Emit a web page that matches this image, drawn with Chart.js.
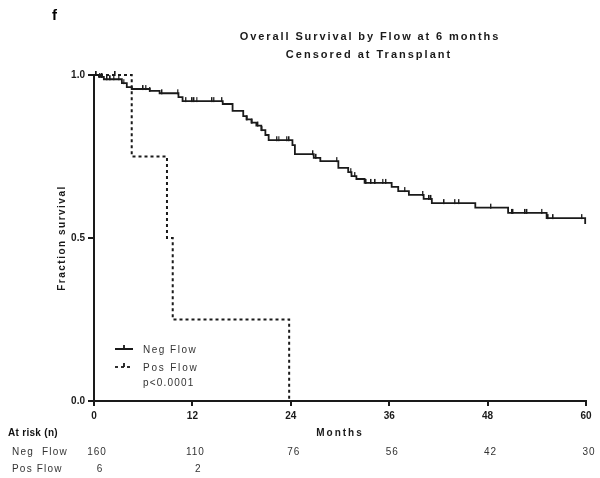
<!DOCTYPE html>
<html>
<head>
<meta charset="utf-8">
<script src="https://cdn.jsdelivr.net/npm/chart.js@4"></script>
<style>
  body { margin: 0; background: #fff; }
  canvas { display: block; }
</style>
</head>
<body>
<canvas id="kmChart" width="600" height="478"></canvas>
<script>
// Kaplan-Meier data (months, fraction surviving)
const negTimes = [0, 0.6, 1.2, 3.4, 4.0, 4.6, 6.8, 8.0, 10.3, 10.8, 15.7, 16.9, 18.2, 18.6, 19.2, 19.8, 20.4, 20.9, 21.3, 24.2, 24.5,
  26.8, 27.6, 29.8, 31.0, 31.4, 32.0, 33.0, 36.3, 37.1, 38.4, 40.2, 41.2, 46.5, 50.5, 55.2, 59.9];
const negSurv = [1.0, 0.994, 0.987, 0.975, 0.963, 0.957, 0.951, 0.944, 0.932, 0.92, 0.911, 0.89, 0.874, 0.864, 0.854, 0.845, 0.831, 0.816, 0.80, 0.785, 0.757,
  0.746, 0.736, 0.715, 0.702, 0.69, 0.681, 0.669, 0.657, 0.644, 0.632, 0.62, 0.607, 0.593, 0.577, 0.561, 0.543];
const negCensored = [0.3, 0.7, 1.0, 1.6, 2.0, 2.4, 3.0, 3.6, 6.0, 6.3, 6.8, 8.3, 10.2, 11.2, 12.0, 12.2, 12.5, 14.4, 14.6, 15.6,
  18.7, 19.3, 20.0, 20.5, 22.3, 22.5, 23.5, 23.8, 26.7, 27.1, 29.6, 31.3, 31.8, 33.2, 33.8, 34.3, 35.2, 35.6, 37.9,
  40.1, 40.9, 41.1, 42.7, 44.0, 44.5, 48.4, 51.0, 51.1, 52.6, 52.8, 54.6, 55.4, 56.0, 59.5];

const posTimes = [0, 4.6, 8.9, 9.6, 23.8];
const posSurv = [1.0, 0.75, 0.5, 0.25, 0.0];
const posCensored = [2.6];

// numbers at risk
const riskMonths = [0, 12, 24, 36, 48, 60];
const riskNeg = [160, 110, 76, 56, 42, 30];
const riskPos = [6, 2];

const xTicks = [0, 12, 24, 36, 48, 60];
const yTicks = [0, 0.5, 1.0];

const FONT = "'Liberation Sans', Arial, sans-serif";
const INK = '#1a1a1a';

// step curve: horizontal to the event time, then drop
function stepPoints(times, surv) {
  const pts = [];
  times.forEach((t, i) => {
    if (i > 0) pts.push({ x: t, y: surv[i - 1] });
    pts.push({ x: t, y: surv[i] });
  });
  return pts;
}

// level of the curve at a censoring time
function levelAt(times, surv, t) {
  let s = surv[0];
  times.forEach((et, i) => { if (et <= t) s = surv[i]; });
  return s;
}

function censorPoints(times, surv, cens) {
  return cens.map(t => ({ x: t, y: levelAt(times, surv, t) }));
}

// small tick that sits mostly above the curve
const tickMark = document.createElement('canvas');
tickMark.width = 2;
tickMark.height = 10;
(function () {
  const c = tickMark.getContext('2d');
  c.fillStyle = INK;
  c.fillRect(0, 1, 1.4, 5);
})();

function spacedText(ctx, txt, x, y, font, align, spacing, color) {
  ctx.save();
  ctx.font = font;
  ctx.fillStyle = color || INK;
  ctx.letterSpacing = spacing;
  ctx.textBaseline = 'middle';
  let w = ctx.measureText(txt).width;
  let sx = x;
  if (align === 'center') sx = x - w / 2;
  else if (align === 'right') sx = x - w;
  ctx.textAlign = 'left';
  ctx.fillText(txt, sx, y);
  ctx.restore();
}

const extrasPlugin = {
  id: 'extras',
  afterDraw(chart) {
    const ctx = chart.ctx;
    const xs = chart.scales.x;

    spacedText(ctx, 'f', 52, 16, 'bold 15px ' + FONT, 'left', '0px', '#000');
    spacedText(ctx, 'Overall Survival by Flow at 6 months', 370, 37, 'bold 11px ' + FONT, 'center', '1.9px');
    spacedText(ctx, 'Censored at Transplant', 369, 55, 'bold 11px ' + FONT, 'center', '2px');

    // y axis title
    ctx.save();
    ctx.translate(62, 238);
    ctx.rotate(-Math.PI / 2);
    spacedText(ctx, 'Fraction survival', 0, 0, 'bold 10px ' + FONT, 'center', '1.5px');
    ctx.restore();

    spacedText(ctx, 'Months', 340, 433, 'bold 10px ' + FONT, 'center', '2px');

    // legend
    ctx.save();
    ctx.strokeStyle = INK;
    ctx.lineWidth = 1.8;
    ctx.beginPath();
    ctx.moveTo(115, 349); ctx.lineTo(133, 349);
    ctx.moveTo(124, 345); ctx.lineTo(124, 349);
    ctx.stroke();
    ctx.setLineDash([3, 3]);
    ctx.beginPath();
    ctx.moveTo(115, 367); ctx.lineTo(133, 367);
    ctx.stroke();
    ctx.setLineDash([]);
    ctx.beginPath();
    ctx.moveTo(124, 363); ctx.lineTo(124, 367);
    ctx.stroke();
    ctx.restore();
    spacedText(ctx, 'Neg Flow', 143, 350, '10px ' + FONT, 'left', '1.5px', '#333');
    spacedText(ctx, 'Pos Flow', 143, 368, '10px ' + FONT, 'left', '1.8px', '#333');
    spacedText(ctx, 'p<0.0001', 143, 383, '10px ' + FONT, 'left', '1.2px', '#333');

    // at-risk table
    spacedText(ctx, 'At risk (n)', 8, 433, 'bold 10px ' + FONT, 'left', '0.3px', '#111');
    spacedText(ctx, 'Neg  Flow', 12, 452, '10px ' + FONT, 'left', '1.2px', '#333');
    spacedText(ctx, 'Pos Flow', 12, 469, '10px ' + FONT, 'left', '1.2px', '#333');
    riskNeg.forEach((n, i) => {
      spacedText(ctx, String(n), xs.getPixelForValue(riskMonths[i]) + 3, 452, '10px ' + FONT, 'center', '1px', '#333');
    });
    riskPos.forEach((n, i) => {
      spacedText(ctx, String(n), xs.getPixelForValue(riskMonths[i]) + 6, 469, '10px ' + FONT, 'center', '1px', '#333');
    });
  }
};

const ctxKm = document.getElementById('kmChart').getContext('2d');
const kmChart = new Chart(ctxKm, {
  type: 'line',
  data: {
    datasets: [
      {
        label: 'Neg Flow',
        data: stepPoints(negTimes, negSurv),
        borderColor: INK,
        borderWidth: 1.8,
        pointRadius: 0,
        tension: 0,
        clip: false
      },
      {
        label: 'Pos Flow',
        data: stepPoints(posTimes, posSurv),
        borderColor: INK,
        borderWidth: 2,
        borderDash: [3, 3],
        pointRadius: 0,
        tension: 0,
        clip: false
      },
      {
        type: 'scatter',
        label: 'Neg censored',
        data: censorPoints(negTimes, negSurv, negCensored),
        pointStyle: tickMark,
        clip: false
      },
      {
        type: 'scatter',
        label: 'Pos censored',
        data: censorPoints(posTimes, posSurv, posCensored),
        pointStyle: tickMark,
        clip: false
      }
    ]
  },
  options: {
    responsive: false,
    animation: false,
    layout: { padding: { left: 0, top: 75, right: 14, bottom: 0 } },
    plugins: {
      legend: { display: false },
      title: { display: false },
      tooltip: { enabled: false }
    },
    scales: {
      x: {
        type: 'linear',
        min: 0,
        max: 60,
        afterBuildTicks: s => { s.ticks = xTicks.map(v => ({ value: v })); },
        afterFit: s => { s.height = 77; },
        grid: { display: true, drawOnChartArea: false, tickLength: 5, color: INK, lineWidth: 2 },
        border: { color: INK, width: 2 },
        ticks: { color: INK, font: { family: FONT, size: 10, weight: 'bold' }, padding: 4, maxRotation: 0 }
      },
      y: {
        type: 'linear',
        min: 0,
        max: 1,
        afterBuildTicks: s => { s.ticks = yTicks.map(v => ({ value: v })); },
        afterFit: s => { s.width = 94; },
        grid: { display: true, drawOnChartArea: false, tickLength: 6, color: INK, lineWidth: 2 },
        border: { color: INK, width: 2 },
        ticks: { color: INK, font: { family: FONT, size: 10, weight: 'bold' }, padding: 3, callback: v => v.toFixed(1) }
      }
    }
  },
  plugins: [extrasPlugin]
});
</script>
</body>
</html>
